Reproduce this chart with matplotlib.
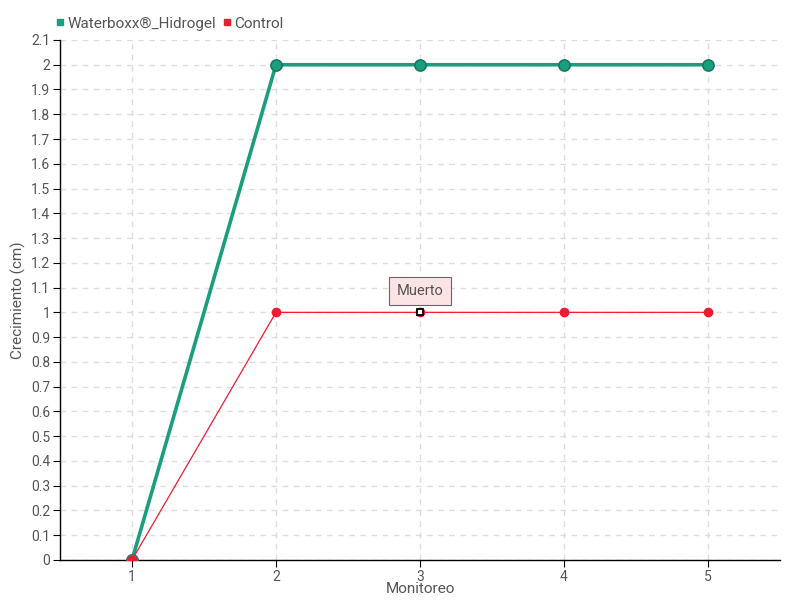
import matplotlib
matplotlib.use("Agg")
import matplotlib.pyplot as plt
from matplotlib.lines import Line2D

# Data
monitoreo = [1, 2, 3, 4, 5]
waterboxx = [0, 2, 2, 2, 2]
control = [0, 1, 1, 1, 1]
y_ticks = [0, 0.1, 0.2, 0.3, 0.4, 0.5, 0.6, 0.7, 0.8, 0.9, 1, 1.1, 1.2, 1.3, 1.4, 1.5,
           1.6, 1.7, 1.8, 1.9, 2, 2.1]
dead_x, dead_y, dead_label = 3, 1, "Muerto"

green = "#1b9e7e"
red = "#ee1c2e"
text_col = "#555555"

plt.rcParams["font.family"] = ["Roboto", "DejaVu Sans"]

fig = plt.figure(figsize=(8, 6), dpi=100)
ax = fig.add_axes([0.075, 0.0667, 0.9, 0.8667])

ax.plot(monitoreo, waterboxx, color=green, linewidth=2.6, marker="o", markersize=8,
        markerfacecolor=green, markeredgecolor="#137a5e", markeredgewidth=1.2, zorder=3)
ax.plot(monitoreo, control, color=red, linewidth=0.9, marker="o", markersize=6,
        markerfacecolor=red, markeredgecolor=red, zorder=4)
ax.plot([monitoreo[0]], [control[0]], linestyle="none", marker="o", markersize=8,
        markerfacecolor=red, markeredgecolor="#3f7a5e", markeredgewidth=1.2, zorder=5)
ax.plot([dead_x], [dead_y], linestyle="none", marker="s", markersize=5,
        markerfacecolor="white", markeredgecolor="black", markeredgewidth=1.3, zorder=6)

ax.annotate(dead_label, xy=(dead_x, dead_y), xytext=(0, 15.5), textcoords="offset points",
            ha="center", va="center", fontsize=10.5, color=text_col,
            bbox=dict(boxstyle="square,pad=0.5", fc="#fde4e4", ec="#666666", lw=0.8),
            zorder=7)

ax.set_xlim(0.5, 5.5)
ax.set_ylim(0, 2.1)
ax.set_xticks(monitoreo)
ax.set_yticks(y_ticks)
ax.set_yticklabels([("%g" % v) for v in y_ticks])

for s in ["top", "right"]:
    ax.spines[s].set_visible(False)
for s in ["left", "bottom"]:
    ax.spines[s].set_color("black")
    ax.spines[s].set_linewidth(1)

ax.tick_params(axis="both", colors="black", labelcolor=text_col, labelsize=10,
               length=5, direction="out", pad=2)
ax.grid(True, color="#dddddd", linestyle=(0, (4, 4)), linewidth=1)
ax.set_axisbelow(True)

ax.set_xlabel("Monitoreo", color=text_col, fontsize=11)
ax.set_ylabel("Crecimiento (cm)", color=text_col, fontsize=11)
ax.xaxis.set_label_coords(0.5, -0.043)
ax.yaxis.set_label_coords(-0.047, 0.5)

legend_elements = [
    Line2D([0], [0], marker="s", color=green, linewidth=0, markersize=5, label="Waterboxx®_Hidrogel"),
    Line2D([0], [0], marker="s", color=red, linewidth=0, markersize=5, label="Control"),
]
fig.legend(handles=legend_elements, loc="upper left", bbox_to_anchor=(0.052, 0.995), ncol=2,
           frameon=False, fontsize=11, labelcolor=text_col, handlelength=0.6,
           handletextpad=0.2, columnspacing=0.4)

fig.savefig("out.png", dpi=100)
